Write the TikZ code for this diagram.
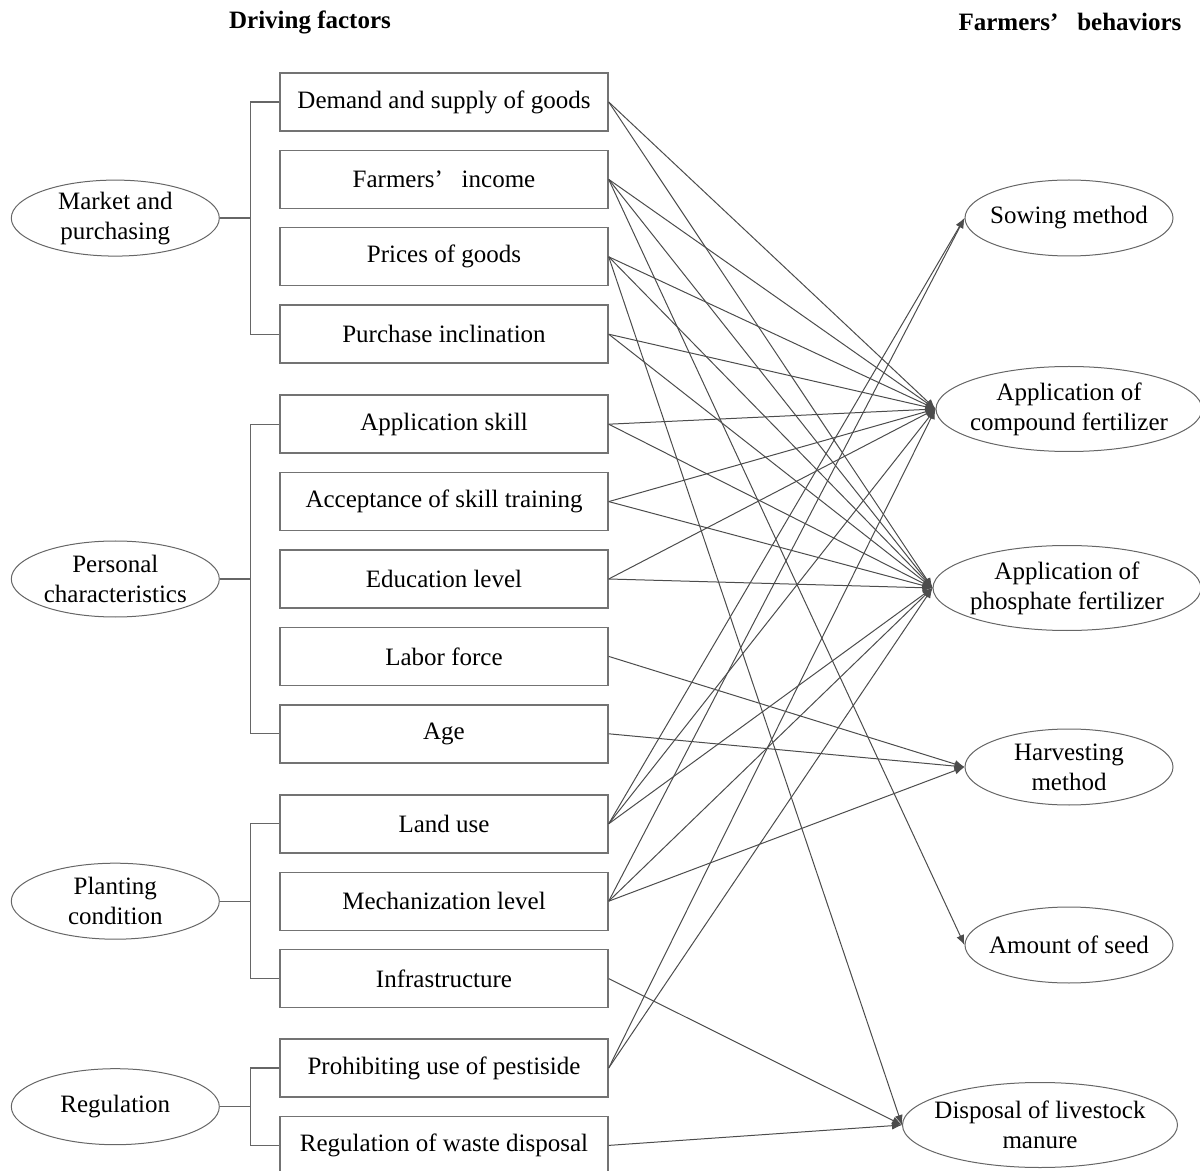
\documentclass[tikz,border=0pt]{standalone}
\usepackage{fontspec}
\setmainfont{Liberation Serif}
\usetikzlibrary{calc, arrows.meta, positioning, shapes.geometric}
\tikzset{
	node distance = 9pt,
	line width = .6pt,
	font = \fontsize{12.5pt}{15pt}\selectfont,
	factor/.style={
		draw=black!55,
		rectangle,
		line width=.7pt,
		minimum width=164pt,
		minimum height=29pt,
		inner sep=0pt
	},
	cluster/.style={
		draw=black!60,
		ellipse,
		line width=.5pt,
		minimum width=104pt,
		minimum height=38pt,
		inner xsep=-6pt,
		inner ysep=-1pt,
		align=center
	},
	behavior/.style={
		cluster
	},
	wide/.style={
		minimum width=#1,
		minimum height=42.5pt
	},
	bracket/.style={
		draw=black!60,
		line width=.6pt
	},
	link/.style={
		-{Latex[length=5pt,width=4pt]},
		draw=black!70,
		line width=.5pt
	},
	heading/.style={
		font=\fontsize{12.5pt}{15pt}\selectfont\bfseries
	}
}

\begin{document}
\begin{tikzpicture}[x=0.5pt, y=-0.5pt]
		\useasboundingbox (0,0) rectangle (1200,1171);

		% headings
		\node[heading] (hdl) at (310,22) {Driving factors};
		\node[heading] (hdr) at (1070,22) {Farmers’\hspace{0.75em}behaviors};

		% driving factors
		\node[factor] (dem) at (444,102) {Demand and supply of goods};
		\node[factor, below=of dem] (inc) {Farmers’\hspace{0.75em}income};
		\node[factor, below=of inc] (pri) {Prices of goods};
		\node[factor, below=of pri] (pur) {Purchase inclination};
		\node[factor, below=15.3pt of pur] (ski) {Application skill};
		\node[factor, below=of ski] (acc) {Acceptance of skill training};
		\node[factor, below=of acc] (edu) {Education level};
		\node[factor, below=of edu] (lab) {Labor force};
		\node[factor, below=of lab] (age) {Age};
		\node[factor, below=15.3pt of age] (lan) {Land use};
		\node[factor, below=of lan] (mec) {Mechanization level};
		\node[factor, below=of mec] (inf) {Infrastructure};
		\node[factor, below=15pt of inf] (pro) {Prohibiting use of pestiside};
		\node[factor, below=of pro] (was) {Regulation of waste disposal};

		% factor groups
		\node[cluster] (mkt) at ($(dem.west)!.5!(pur.west)+(-164,0)$) {Market and\\purchasing};
		\node[cluster] (per) at ($(ski.west)!.5!(age.west)+(-164,0)$) {Personal\\characteristics};
		\node[cluster] (pla) at ($(lan.west)!.5!(inf.west)+(-164,0)$) {Planting\\condition};
		\node[cluster] (reg) at ($(pro.west)!.5!(was.west)+(-164,0)$) {Regulation};

		\coordinate (mktbar) at ($(dem.west)+(-29,0)$);
		\coordinate (perbar) at ($(ski.west)+(-29,0)$);
		\coordinate (plabar) at ($(lan.west)+(-29,0)$);
		\coordinate (regbar) at ($(pro.west)+(-29,0)$);

		\draw[bracket] (dem.west) -- (mktbar) |- (pur.west);
		\draw[bracket] (mkt.east) -- (mkt.east -| mktbar);
		\draw[bracket] (ski.west) -- (perbar) |- (age.west);
		\draw[bracket] (per.east) -- (per.east -| perbar);
		\draw[bracket] (lan.west) -- (plabar) |- (inf.west);
		\draw[bracket] (pla.east) -- (pla.east -| plabar);
		\draw[bracket] (pro.west) -- (regbar) |- (was.west);
		\draw[bracket] (reg.east) -- (reg.east -| regbar);

		% farmers' behaviors
		\node[behavior] (sow) at (1069,218) {Sowing method};
		\node[behavior, wide=133pt] (com) at (1069,409) {Application of\\compound fertilizer};
		\node[behavior, wide=134pt] (pho) at (1067,588) {Application of\\phosphate fertilizer};
		\node[behavior] (har) at (1069,767) {Harvesting\\method};
		\node[behavior] (see) at (1069,945) {Amount of seed};
		\node[behavior, wide=137.5pt] (dis) at (1040,1125) {Disposal of livestock\\manure};

		% influences
		\draw[link] (dem.east) to (com.west);
		\draw[link] (dem.east) to (pho.west);
		\draw[link] (inc.east) to (com.west);
		\draw[link] (inc.east) to (pho.west);
		\draw[link] (inc.east) to (see.west);
		\draw[link] (pri.east) to (com.west);
		\draw[link] (pri.east) to (pho.west);
		\draw[link] (pri.east) to (dis.west);
		\draw[link] (pur.east) to (com.west);
		\draw[link] (pur.east) to (pho.west);
		\draw[link] (ski.east) to (com.west);
		\draw[link] (ski.east) to (pho.west);
		\draw[link] (acc.east) to (com.west);
		\draw[link] (acc.east) to (pho.west);
		\draw[link] (edu.east) to (com.west);
		\draw[link] (edu.east) to (pho.west);
		\draw[link] (lab.east) to (har.west);
		\draw[link] (age.east) to (har.west);
		\draw[link] (lan.east) to (sow.west);
		\draw[link] (lan.east) to (com.west);
		\draw[link] (lan.east) to (pho.west);
		\draw[link] (mec.east) to (sow.west);
		\draw[link] (mec.east) to (pho.west);
		\draw[link] (mec.east) to (har.west);
		\draw[link] (inf.east) to (dis.west);
		\draw[link] (pro.east) to (com.west);
		\draw[link] (pro.east) to (pho.west);
		\draw[link] (was.east) to (dis.west);
	\end{tikzpicture}
\end{document}
